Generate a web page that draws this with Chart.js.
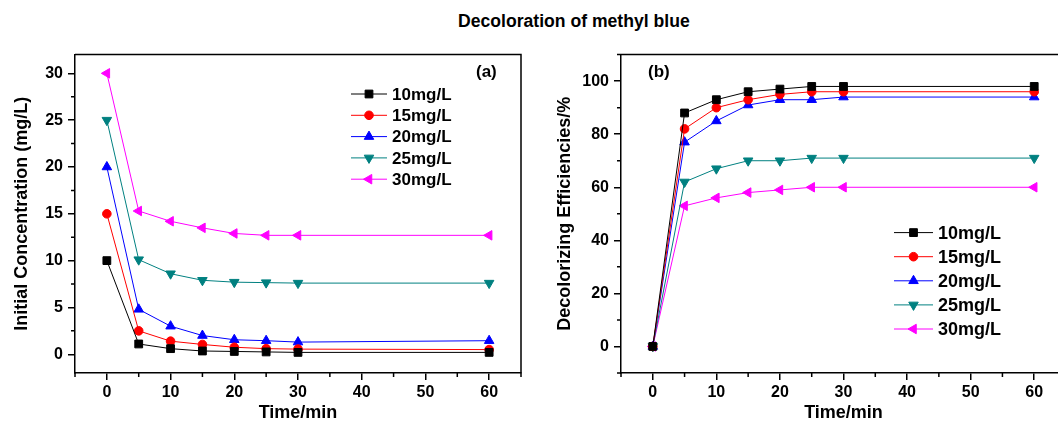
<!DOCTYPE html>
<html>
<head>
<meta charset="utf-8">
<script src="https://cdn.jsdelivr.net/npm/chart.js@4/dist/chart.umd.min.js"></script>
<style>
body { margin: 0; width: 1058px; height: 424px; overflow: hidden; background: #fff; position: relative; font-family: "Liberation Sans", Arial, sans-serif; }
#titulo { position: absolute; left: 458px; top: 10px; font-weight: bold; font-size: 17.6px; line-height: 22px; white-space: nowrap; }
</style>
</head>
<body>
<div id="titulo">Decoloration of methyl blue</div>
<canvas id="graficoA" width="530" height="384" style="position:absolute;left:0;top:40px"></canvas>
<canvas id="graficoB" width="550" height="384" style="position:absolute;left:530px;top:40px"></canvas>
<script>
// Dados
const tempo = [0, 5, 10, 15, 20, 25, 30, 60];
const series = ['10mg/L', '15mg/L', '20mg/L', '25mg/L', '30mg/L'];

// (a) concentração (mg/L)
const conc10 = [10, 1.1, 0.6, 0.35, 0.3, 0.25, 0.2, 0.2];
const conc15 = [15, 2.5, 1.4, 1.05, 0.75, 0.6, 0.55, 0.5];
const conc20 = [20, 4.8, 3.0, 2.0, 1.55, 1.45, 1.3, 1.45];
const conc25 = [25, 10.1, 8.6, 7.9, 7.7, 7.65, 7.6, 7.6];
const conc30 = [30, 15.3, 14.2, 13.5, 12.9, 12.7, 12.7, 12.7];

// (b) eficiência (%)
const efic10 = [0, 88, 93, 96, 97, 98, 98, 98];
const efic15 = [0, 82, 90, 93, 95, 96, 96, 96];
const efic20 = [0, 77, 85, 91, 93, 93, 94, 94];
const efic25 = [0, 62, 67, 70, 70, 71, 71, 71];
const efic30 = [0, 53, 56, 58, 59, 60, 60, 60];

// Ticks
const xTicks = [0, 10, 20, 30, 40, 50, 60];
const xMinor = [-5, 5, 15, 25, 35, 45, 55, 65];
const yTicksA = [0, 5, 10, 15, 20, 25, 30];
const yMinorA = [2.5, 7.5, 12.5, 17.5, 22.5, 27.5];
const yTicksB = [0, 20, 40, 60, 80, 100];
const yMinorB = [-10, 10, 30, 50, 70, 90, 110];

// Estilos
const cores = ['#000000', '#ff0000', '#0000ff', '#008080', '#ff00ff'];
const marcadores = ['rect', 'circle', 'triangle', 'triangle', 'triangle'];
const rotacoes = [0, 0, 0, 180, -90];
const raios = [5.5, 4.3, 5.5, 5.5, 5.5];

const fonte = '"Liberation Sans", Arial, sans-serif';

function montarDatasets(valores) {
    return series.map((nome, i) => ({
        label: nome,
        data: tempo.map((t, j) => ({ x: t, y: valores[i][j] })),
        borderColor: cores[i],
        backgroundColor: cores[i],
        borderWidth: 1,
        pointStyle: marcadores[i],
        pointRotation: rotacoes[i],
        pointRadius: raios[i],
        pointHoverRadius: raios[i],
        pointBorderWidth: 1,
        tension: 0
    }));
}

// Plugin: moldura, ticks menores, legenda e rótulo do painel
const moldura = {
    id: 'moldura',
    afterDraw(chart, args, opts) {
        const ctx = chart.ctx;
        const area = chart.chartArea;
        const sx = chart.scales.x, sy = chart.scales.y;
        ctx.save();
        ctx.strokeStyle = '#000';
        ctx.lineWidth = 1.5;
        ctx.beginPath();
        ctx.moveTo(area.left, area.top);
        ctx.lineTo(area.right, area.top);
        ctx.lineTo(area.right, area.bottom);
        ctx.stroke();

        // ticks menores
        ctx.beginPath();
        opts.xMinor.forEach(v => {
            const px = sx.getPixelForValue(v);
            ctx.moveTo(px, area.bottom);
            ctx.lineTo(px, area.bottom + 4);
        });
        opts.yMinor.forEach(v => {
            const py = sy.getPixelForValue(v);
            ctx.moveTo(area.left, py);
            ctx.lineTo(area.left - 4, py);
        });
        ctx.stroke();

        // legenda
        const lg = opts.legenda;
        ctx.font = 'bold ' + lg.tamanho + 'px ' + fonte;
        ctx.textBaseline = 'middle';
        ctx.textAlign = 'left';
        chart.data.datasets.forEach((ds, i) => {
            const y = lg.y + i * lg.passo;
            ctx.strokeStyle = ds.borderColor;
            ctx.lineWidth = 1;
            ctx.beginPath();
            ctx.moveTo(lg.x, y);
            ctx.lineTo(lg.x + lg.comp, y);
            ctx.stroke();
            ctx.fillStyle = ds.backgroundColor;
            Chart.helpers.drawPoint(ctx, {
                pointStyle: ds.pointStyle,
                rotation: ds.pointRotation,
                radius: ds.pointRadius,
                borderWidth: 1
            }, lg.x + lg.comp / 2, y);
            ctx.fillStyle = '#000';
            ctx.fillText(ds.label, lg.x + lg.comp + 5, y + 1);
        });

        // rótulo (a)/(b)
        ctx.font = 'bold 17px ' + fonte;
        ctx.fillStyle = '#000';
        ctx.fillText(opts.painel.texto, opts.painel.x, opts.painel.y);
        ctx.restore();
    }
};

function criarGrafico(id, valores, cfg) {
    const ctx = document.getElementById(id).getContext('2d');
    return new Chart(ctx, {
        type: 'line',
        data: { datasets: montarDatasets(valores) },
        options: {
            responsive: false,
            animation: false,
            layout: { padding: { top: 7, right: cfg.direita, left: 0, bottom: 0 } },
            plugins: {
                legend: { display: false },
                tooltip: { enabled: false },
                moldura: {
                    xMinor: xMinor,
                    yMinor: cfg.yMinor,
                    legenda: cfg.legenda,
                    painel: cfg.painel
                }
            },
            scales: {
                x: {
                    type: 'linear',
                    min: -5,
                    max: 65,
                    afterBuildTicks: (eixo) => { eixo.ticks = xTicks.map(v => ({ value: v })); },
                    afterFit: (eixo) => { eixo.height = 51; },
                    grid: { drawOnChartArea: false, drawTicks: true, tickLength: 7, color: '#000', lineWidth: 1.5 },
                    border: { display: true, color: '#000', width: 1.5 },
                    ticks: { color: '#000', font: { family: fonte, size: 16, weight: 'bold' }, padding: 3, maxRotation: 0 },
                    title: { display: true, text: 'Time/min', color: '#000', font: { family: fonte, size: 18, weight: 'bold' }, padding: { top: 1, bottom: 0 } }
                },
                y: {
                    type: 'linear',
                    min: cfg.yMin,
                    max: cfg.yMax,
                    afterBuildTicks: (eixo) => { eixo.ticks = cfg.yTicks.map(v => ({ value: v })); },
                    afterFit: (eixo) => { eixo.width = cfg.largura; },
                    grid: { drawOnChartArea: false, drawTicks: true, tickLength: 7, color: '#000', lineWidth: 1.5 },
                    border: { display: true, color: '#000', width: 1.5 },
                    ticks: { color: '#000', font: { family: fonte, size: 16, weight: 'bold' }, padding: 5 },
                    title: { display: true, text: cfg.tituloY, color: '#000', font: { family: fonte, size: 18, weight: 'bold' }, padding: { top: cfg.tituloPad, bottom: 0 } }
                }
            }
        },
        plugins: [moldura]
    });
}

criarGrafico('graficoA', [conc10, conc15, conc20, conc25, conc30], {
    direita: 9,
    largura: 75,
    yMin: -2,
    yMax: 32,
    yTicks: yTicksA,
    yMinor: yMinorA,
    tituloY: 'Initial Concentration (mg/L)',
    tituloPad: 11,
    legenda: { x: 351, y: 54, comp: 36, passo: 21.3, tamanho: 17 },
    painel: { texto: '(a)', x: 476, y: 32 }
});

criarGrafico('graficoB', [efic10, efic15, efic20, efic25, efic30], {
    direita: 14,
    largura: 91,
    yMin: -10,
    yMax: 110,
    yTicks: yTicksB,
    yMinor: yMinorB,
    tituloY: 'Decolorizing Efficiencies/%',
    tituloPad: 24,
    legenda: { x: 364, y: 192.6, comp: 39, passo: 24.1, tamanho: 18 },
    painel: { texto: '(b)', x: 118, y: 32 }
});
</script>
</body>
</html>
